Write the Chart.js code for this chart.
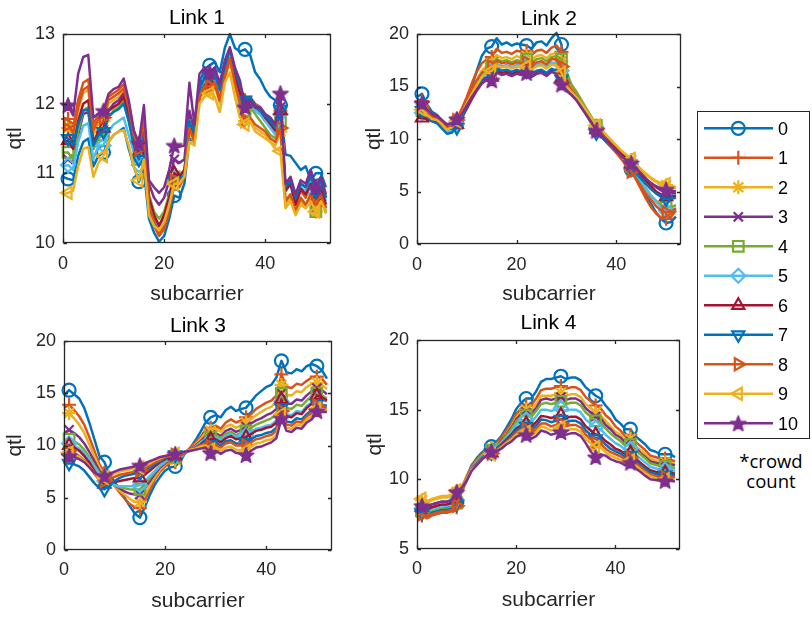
<!DOCTYPE html>
<html>
<head>
<meta charset="utf-8">
<script src="https://cdn.jsdelivr.net/npm/chart.js@4/dist/chart.umd.min.js"></script>
<style>
  html, body { margin: 0; padding: 0; background: #fff; }
  body { width: 812px; height: 617px; position: relative; overflow: hidden;
         font-family: "Liberation Sans", Arial, Helvetica, sans-serif; }
  canvas { position: absolute; }
  #legendBox { position: absolute; left: 697px; top: 111px; width: 113px; height: 328px;
               border: 1.3px solid #262626; box-sizing: border-box; }
  .lg { position: absolute; left: 778px; height: 22px; line-height: 22px; font-size: 18px; color: #000; }
  .note { position: absolute; left: 721px; width: 100px; text-align: center; font-family: "Open Sans", sans-serif;
          font-size: 18.5px; line-height: 20px; color: #000; }
</style>
</head>
<body>
<canvas id="link1" width="340" height="310" style="left:0;top:0"></canvas>
<canvas id="link2" width="340" height="310" style="left:350px;top:0"></canvas>
<canvas id="link3" width="340" height="317" style="left:0;top:300px"></canvas>
<canvas id="link4" width="340" height="317" style="left:350px;top:300px"></canvas>
<div id="legendBox"></div>
<canvas id="legendMarks" width="113" height="328" style="left:697px;top:111px"></canvas>
<div id="legendLabels"></div>
<div class="note" style="top:451px">*crowd</div>
<div class="note" style="top:471px">count</div>

<script>
// Subcarrier index (x axis) and crowd counts (one series per count)
const SUBCARRIERS = [0,1,2,3,4,5,6,7,8,9,10,11,12,13,14,15,16,17,18,19,20,21,22,23,24,25,26,
  27,28,29,30,31,32,33,34,35,36,37,38,39,40,41,42,43,44,45,46,47,48,49,50,51,52];
const CROWD_COUNTS = ['0','1','2','3','4','5','6','7','8','9','10'];
const MARKER_SUBCARRIERS = [1, 8, 15, 22, 29, 36, 43, 50];

const X_TICKS = [0, 20, 40];
const LINK1_Y_TICKS = [10, 11, 12, 13];
const LINK2_Y_TICKS = [0, 5, 10, 15, 20];
const LINK3_Y_TICKS = [0, 5, 10, 15, 20];
const LINK4_Y_TICKS = [5, 10, 15, 20];

// ---- Link 1: qtl per subcarrier, one array per crowd count ----
const link1_c0 = [10.95,10.92,10.90,11.25,11.45,11.50,11.10,11.25,11.30,11.45, 11.55,11.60,11.65,11.35,11.10,10.88,11.05,10.35,10.15,10.02, 10.10,10.35,10.68,10.65,10.85,11.50,11.45,12.30,12.50,12.55, 12.60,12.45,12.80,13.00,12.80,12.75,12.78,12.70,12.45,12.35, 12.20,12.10,12.05,11.98,11.27,11.25,11.15,11.05,11.10,10.90, 11.00,11.00,10.80];
const link1_c1 = [11.80,11.78,11.65,12.05,12.30,12.35,11.70,11.85,11.85,12.10, 12.15,12.20,12.28,12.00,11.60,11.40,11.80,10.50,10.25,10.10, 10.20,10.45,10.85,10.80,10.95,11.70,11.50,12.20,12.35,12.35, 12.40,12.15,12.50,12.75,12.45,12.25,12.05,12.10,12.00,11.95, 11.85,11.75,11.65,11.90,10.75,10.85,10.55,10.75,10.65,10.85, 10.60,10.80,10.50];
const link1_c2 = [11.65,11.65,11.52,11.90,12.15,12.20,11.55,11.72,11.75,12.00, 12.05,12.10,12.18,11.90,11.50,11.32,11.72,10.60,10.35,10.20, 10.32,10.58,10.92,10.88,10.98,11.60,11.42,12.05,12.20,12.20, 12.25,12.00,12.35,12.60,12.25,11.95,11.75,11.78,11.65,11.60, 11.55,11.45,11.40,11.60,10.55,10.65,10.42,10.60,10.52,10.65, 10.45,10.62,10.42];
const link1_c3 = [11.25,11.20,11.15,11.55,11.85,11.88,11.35,11.55,11.60,11.90, 12.00,12.05,12.15,11.85,11.45,11.25,11.65,10.85,10.65,10.55, 10.65,10.90,11.20,11.15,11.20,11.90,11.60,12.25,12.40,12.40, 12.45,12.20,12.55,12.75,12.45,12.25,12.00,12.05,11.90,11.85, 11.75,11.70,11.60,11.95,10.80,10.90,10.65,10.85,10.80,11.00, 10.75,10.90,10.65];
const link1_c4 = [11.30,11.30,11.20,11.60,11.90,11.95,11.35,11.50,11.55,11.80, 11.90,11.95,12.05,11.75,11.40,11.20,11.55,10.70,10.45,10.35, 10.45,10.70,10.95,10.92,11.00,11.75,11.55,12.15,12.30,12.30, 12.35,12.10,12.45,12.70,12.40,12.15,11.90,11.95,11.85,11.75, 11.65,11.55,11.50,11.75,10.60,10.70,10.45,10.65,10.55,10.70, 10.45,10.65,10.45];
const link1_c5 = [11.10,11.12,11.05,11.45,11.68,11.72,11.20,11.40,11.40,11.60, 11.70,11.75,11.80,11.55,11.30,11.12,11.45,10.50,10.30,10.22, 10.35,10.60,10.95,10.92,11.00,11.70,11.55,12.20,12.35,12.35, 12.40,12.15,12.50,12.70,12.45,12.20,12.00,12.02,11.90,11.85, 11.75,11.65,11.55,11.85,10.75,10.85,10.60,10.80,10.75,10.90, 10.70,10.85,10.60];
const link1_c6 = [11.45,11.47,11.35,11.75,12.00,12.05,11.45,11.60,11.65,11.90, 11.95,12.00,12.10,11.85,11.45,11.30,11.65,10.65,10.40,10.25, 10.40,10.65,11.00,10.95,11.05,11.70,11.50,12.10,12.25,12.28, 12.30,12.05,12.40,12.65,12.38,12.15,12.00,12.05,11.95,11.90, 11.80,11.72,11.62,11.90,10.75,10.85,10.55,10.78,10.70,10.85, 10.62,10.80,10.55];
const link1_c7 = [11.52,11.50,11.40,11.70,11.90,11.92,11.40,11.55,11.60,11.82, 11.88,11.92,12.00,11.75,11.40,11.20,11.55,10.55,10.30,10.15, 10.28,10.55,10.90,10.88,10.98,11.75,11.55,12.20,12.38,12.40, 12.42,12.20,12.52,12.78,12.50,12.25,12.05,12.08,11.98,11.90, 11.82,11.75,11.65,11.92,10.80,10.90,10.65,10.85,10.80,10.95, 10.75,10.90,10.65];
const link1_c8 = [11.70,11.70,11.58,11.95,12.20,12.25,11.62,11.78,11.80,12.05, 12.10,12.15,12.22,11.95,11.55,11.35,11.75,10.55,10.30,10.12, 10.25,10.50,10.90,10.85,10.95,11.65,11.45,12.10,12.25,12.25, 12.30,12.05,12.40,12.65,12.30,12.00,11.75,11.80,11.70,11.65, 11.60,11.50,11.45,11.65,10.60,10.70,10.45,10.65,10.55,10.70, 10.55,10.70,10.45];
const link1_c9 = [10.70,10.72,10.75,11.10,11.35,11.38,10.95,11.15,11.25,11.45, 11.55,11.60,11.62,11.40,11.10,10.90,11.20,10.40,10.25,10.18, 10.30,10.55,10.85,10.85,10.95,11.45,11.40,12.00,12.10,12.15, 12.10,11.88,12.30,12.45,12.10,11.80,11.70,11.75,11.60,11.55, 11.50,11.45,11.35,11.32,10.50,10.60,10.40,10.55,10.50,10.60, 10.45,10.60,10.45];
const link1_c10 = [12.00,11.98,11.83,12.43,12.67,12.70,11.80,11.86,11.90,12.14, 12.21,12.24,12.36,12.05,11.62,11.43,11.98,10.90,10.80,10.72, 10.80,11.05,11.40,11.38,11.40,12.30,11.70,12.43,12.52,12.45, 12.52,12.29,12.62,12.81,12.52,12.33,11.95,12.05,11.95,11.95, 11.85,11.80,11.70,12.15,10.85,10.95,10.70,10.90,10.85,11.05, 10.80,10.95,10.70];

// ---- Link 2 ----
const link2_c0 = [14.0,14.3,13.3,12.6,12.3,11.8,11.2,11.0,11.5,12.6, 13.8,15.0,16.5,17.9,18.6,18.8,19.6,19.0,19.2,18.9, 19.1,19.0,18.9,18.6,19.2,19.3,18.9,19.6,20.1,19.0, 15.8,14.8,14.2,13.4,12.6,11.8,10.9,10.4,9.8,9.3, 8.8,8.2,7.7,7.1,6.3,5.5,4.6,3.8,3.0,2.4, 2.0,2.1,2.6];
const link2_c1 = [13.4,13.6,12.9,12.4,12.2,11.8,11.3,11.3,11.9,12.9, 14.0,15.3,16.4,17.2,17.6,17.8,18.6,18.2,18.3,18.1, 18.4,18.3,18.4,18.0,18.4,18.5,18.2,18.7,18.9,18.3, 16.0,15.0,14.3,13.5,12.7,11.9,11.1,10.6,10.0,9.4, 8.8,8.2,7.6,7.0,6.1,5.2,4.3,3.5,2.9,2.5, 2.4,2.6,3.2];
const link2_c2 = [12.8,12.9,12.4,12.0,11.9,11.5,11.0,11.1,11.7,12.5, 13.6,14.6,15.6,16.5,17.0,17.2,18.0,17.7,17.8,17.6, 17.9,17.7,17.9,17.5,17.9,18.0,17.7,18.1,18.2,17.4, 15.6,14.8,14.2,13.5,12.8,12.1,11.3,10.9,10.3,9.8, 9.3,8.8,8.4,8.0,7.5,7.0,6.6,6.2,5.9,5.7, 5.6,5.5,5.3];
const link2_c3 = [13.0,13.2,12.6,12.2,12.0,11.6,11.1,11.2,11.8,12.4, 13.3,14.3,15.1,15.9,16.3,16.6,17.1,16.9,17.0,16.8, 17.0,16.9,17.0,16.7,17.0,17.1,16.9,17.2,17.0,16.2, 15.0,14.5,14.0,13.3,12.5,11.8,11.0,10.6,10.1,9.6, 9.1,8.6,8.2,7.7,7.2,6.7,6.2,5.8,5.4,5.1, 5.0,4.9,4.8];
const link2_c4 = [12.6,12.7,12.2,11.8,11.6,11.2,10.6,10.8,11.5,12.3, 13.4,14.4,15.4,16.2,16.7,16.9,17.6,17.4,17.5,17.3, 17.5,17.4,17.6,17.2,17.6,17.7,17.4,17.8,17.9,17.6, 16.4,15.2,14.5,13.7,12.9,12.1,11.3,10.8,10.2,9.6, 9.0,8.4,7.9,7.4,6.7,6.0,5.3,4.6,4.1,3.7, 3.5,3.5,3.7];
const link2_c5 = [12.4,12.5,12.0,11.7,11.6,11.2,10.7,10.8,11.4,12.2, 13.2,14.2,15.0,15.8,16.2,16.5,17.1,16.9,17.0,16.8, 17.0,16.9,17.1,16.8,17.1,17.2,16.9,17.3,17.2,16.5, 15.2,14.6,14.0,13.3,12.6,11.9,11.1,10.6,10.0,9.4, 8.8,8.3,7.8,7.3,6.6,5.9,5.2,4.6,4.0,3.5, 3.2,3.2,3.4];
const link2_c6 = [12.0,12.0,11.9,11.7,11.6,11.4,11.0,11.0,11.4,12.0, 12.9,13.8,14.6,15.3,15.7,15.9,16.5,16.3,16.4,16.2, 16.4,16.3,16.5,16.1,16.4,16.5,16.2,16.6,16.5,15.8, 14.8,14.3,13.8,13.1,12.4,11.7,10.9,10.5,10.0,9.5, 9.0,8.5,8.1,7.6,7.1,6.5,6.0,5.5,5.0,4.7, 4.5,4.5,4.6];
const link2_c7 = [12.6,12.7,12.1,11.7,11.5,11.0,10.5,10.6,11.1,12.0, 13.1,14.1,14.9,15.6,15.9,16.1,16.8,16.5,16.6,16.4, 16.6,16.4,16.5,16.1,16.5,16.6,16.3,16.7,16.5,15.7, 14.6,14.2,13.7,13.0,12.3,11.5,10.6,10.2,9.7,9.2, 8.7,8.2,7.7,7.2,6.7,6.2,5.7,5.2,4.8,4.5, 4.3,4.3,4.4];
const link2_c8 = [12.9,13.0,12.5,12.1,11.9,11.5,11.0,11.2,11.8,12.6, 13.7,14.7,15.6,16.3,16.7,16.9,17.5,17.2,17.3,17.1, 17.3,17.2,17.3,16.9,17.3,17.4,17.1,17.6,17.6,16.9, 15.4,14.7,14.1,13.4,12.6,11.8,11.0,10.5,9.9,9.3, 8.7,8.1,7.5,6.9,6.2,5.5,4.8,4.2,3.6,3.2, 3.0,3.1,3.4];
const link2_c9 = [12.7,12.8,12.3,11.9,11.8,11.4,10.9,11.1,11.7,12.4, 13.4,14.3,15.1,15.9,16.3,16.5,17.0,16.8,16.9,16.7, 16.9,16.8,16.9,16.6,16.9,17.0,16.7,17.1,17.0,16.3, 15.0,14.5,14.0,13.4,12.7,12.0,11.3,10.9,10.4,9.9, 9.4,8.9,8.5,8.1,7.6,7.1,6.7,6.3,6.0,5.8, 5.7,5.6,5.4];
const link2_c10 = [13.3,13.4,12.8,12.4,12.2,11.8,11.4,11.5,11.9,12.4, 13.2,14.0,14.7,15.3,15.6,15.6,16.3,16.1,16.2,16.0, 16.2,16.1,16.3,15.9,16.2,16.3,16.0,16.4,16.2,15.2, 14.6,14.2,13.7,13.0,12.3,11.6,10.8,10.4,9.9,9.4, 8.9,8.4,8.0,7.7,7.2,6.7,6.2,5.8,5.5,5.3, 5.2,5.1,5.0];

// ---- Link 3 ----
const link3_c0 = [14.8,15.3,14.9,14.5,13.6,12.2,10.6,9.0,8.4,7.2, 6.5,5.8,5.0,4.2,3.5,3.1,4.1,5.3,6.3,7.0, 7.6,7.9,8.0,8.5,9.3,9.8,10.5,11.3,12.2,12.7, 12.9,12.7,13.4,13.7,13.3,13.5,13.6,14.2,14.8,15.2, 15.6,15.8,16.5,18.1,17.0,16.9,17.3,17.1,17.6,17.8, 17.6,17.2,16.4];
const link3_c1 = [13.6,13.9,13.4,12.8,12.0,10.8,9.5,8.2,7.4,6.7, 6.1,5.5,4.9,4.4,4.1,4.0,4.8,5.8,6.8,7.5, 8.0,8.3,8.4,8.8,9.3,9.8,10.3,10.8,11.5,11.7, 11.9,11.6,12.2,12.5,12.2,12.4,12.7,13.0,13.5,13.8, 14.1,14.3,14.8,16.8,15.6,15.5,15.9,15.8,16.2,16.5, 16.6,16.4,15.8];
const link3_c2 = [12.8,13.1,12.6,12.0,11.2,10.1,9.0,7.9,7.2,6.6, 6.1,5.7,5.3,4.9,4.6,4.6,5.3,6.2,7.0,7.7, 8.2,8.5,8.6,8.9,9.3,9.7,10.1,10.6,11.2,11.4, 11.6,11.3,11.8,12.0,11.7,11.9,12.2,12.5,12.9,13.2, 13.5,13.7,14.2,15.8,14.8,14.8,15.2,15.1,15.6,15.9, 16.0,15.8,15.4];
const link3_c3 = [11.2,11.5,11.2,10.8,10.2,9.4,8.5,7.6,7.0,6.6, 6.2,5.9,5.6,5.4,5.3,5.3,5.9,6.6,7.3,7.9, 8.3,8.6,8.8,9.0,9.3,9.7,10.0,10.4,10.9,11.0, 11.2,10.9,11.4,11.6,11.3,11.5,11.8,12.1,12.4,12.6, 12.9,13.1,13.5,15.0,14.0,14.0,14.4,14.3,14.8,15.2, 15.5,15.3,14.9];
const link3_c4 = [10.4,10.6,10.4,10.1,9.6,8.9,8.1,7.4,6.8,6.5, 6.2,6.0,5.9,5.8,5.8,5.8,6.3,6.9,7.5,8.0, 8.4,8.7,8.9,9.1,9.3,9.6,9.9,10.3,10.7,10.8, 11.0,10.7,11.1,11.3,11.0,11.2,11.4,11.7,12.0,12.2, 12.4,12.6,13.0,15.0,13.6,13.5,13.9,13.8,14.3,14.7, 15.0,14.8,14.5];
const link3_c5 = [10.0,10.2,10.0,9.7,9.3,8.7,8.0,7.2,6.6,6.4, 6.2,6.1,6.1,6.1,6.1,6.2,6.6,7.1,7.6,8.1, 8.5,8.8,9.0,9.2,9.4,9.6,9.9,10.3,10.6,10.5, 10.8,10.5,10.9,11.1,10.8,10.9,11.0,11.3,11.6,11.7, 11.9,12.0,12.4,14.2,13.0,12.9,13.3,13.2,13.8,14.1, 14.6,14.4,14.2];
const link3_c6 = [9.8,10.0,9.8,9.5,9.0,8.4,7.6,6.8,6.3,6.4, 6.5,6.6,6.7,6.8,6.9,6.9,7.2,7.6,8.0,8.4, 8.7,8.9,9.0,9.2,9.4,9.6,9.8,10.1,10.5,10.6, 10.6,10.3,10.7,10.9,10.6,10.7,10.8,11.1,11.4,11.5, 11.7,11.8,12.2,14.4,12.8,12.7,13.1,13.0,13.6,14.0, 14.8,14.6,14.3];
const link3_c7 = [8.2,8.3,8.2,8.0,7.6,7.0,6.4,5.9,5.8,6.2, 6.6,6.9,7.1,7.2,7.3,7.4,7.6,7.9,8.2,8.5, 8.8,9.0,9.1,9.2,9.4,9.5,9.7,10.0,10.3,10.1, 10.3,10.0,10.4,10.5,10.2,10.2,10.3,10.6,10.9,11.0, 11.2,11.3,11.7,13.6,12.3,12.2,12.6,12.5,13.0,13.4, 14.0,13.9,13.8];
const link3_c8 = [9.3,9.5,9.3,9.0,8.6,8.0,7.3,6.7,6.6,6.8, 7.0,7.2,7.3,7.4,7.5,7.6,7.8,8.1,8.4,8.6, 8.9,9.0,9.1,9.2,9.4,9.6,9.8,10.0,10.2,9.9, 10.1,9.8,10.2,10.3,10.0,10.0,10.0,10.3,10.6,10.7, 10.9,11.0,11.4,13.3,12.0,11.9,12.3,12.2,12.8,13.1, 13.8,13.7,13.6];
const link3_c9 = [9.1,9.3,9.1,8.9,8.5,8.0,7.4,6.9,6.9,7.1, 7.3,7.5,7.6,7.7,7.8,7.9,8.1,8.3,8.6,8.8, 9.0,9.1,9.2,9.3,9.4,9.6,9.7,9.9,10.0,9.6, 9.8,9.5,9.8,9.9,9.6,9.5,9.5,9.9,10.2,10.3, 10.5,10.6,11.0,13.0,11.7,11.6,12.0,11.9,12.5,12.8, 13.5,13.4,13.4];
const link3_c10 = [8.8,9.0,8.9,8.7,8.4,7.9,7.4,7.1,7.1,7.3, 7.5,7.7,7.8,7.9,8.0,8.1,8.3,8.5,8.7,8.9, 9.0,9.1,9.2,9.3,9.4,9.5,9.6,9.7,9.8,9.3, 9.5,9.2,9.5,9.6,9.3,9.2,9.1,9.5,9.8,9.9, 10.1,10.3,10.7,12.6,11.4,11.3,11.7,11.6,12.2,12.5, 13.3,13.2,13.2];

// ---- Link 4 ----
const link4_c0 = [7.8,7.8,7.7,7.9,8.0,8.1,8.0,8.1,8.4,9.3, 10.2,11.0,11.5,11.9,12.2,12.35,12.7,13.1,13.7,14.3, 15.05,15.5,15.8,15.8,16.3,17.0,17.2,17.2,17.3,17.4, 17.2,17.3,17.3,17.1,16.6,16.3,16.0,15.8,15.3,14.9, 14.3,14.0,13.6,13.6,13.1,12.8,12.5,12.1,12.0,11.8, 11.8,11.8,11.6];
const link4_c1 = [7.4,7.4,7.2,7.4,7.5,7.6,7.6,7.7,8.0,9.3, 10.1,11.0,11.4,11.8,12.1,12.2,12.6,13.0,13.5,14.0, 14.7,15.1,15.3,15.3,15.8,16.4,16.5,16.5,16.6,16.7, 16.5,16.6,16.6,16.4,15.9,15.6,15.3,15.1,14.6,14.3, 13.8,13.5,13.1,13.2,12.7,12.4,12.1,11.7,11.6,11.5, 11.5,11.4,11.3];
const link4_c2 = [8.5,8.5,8.3,8.5,8.6,8.7,8.7,8.8,9.1,9.5, 10.2,10.9,11.3,11.7,12.0,12.2,12.5,12.8,13.3,13.8, 14.45,14.8,15.0,14.9,15.4,16.0,16.0,16.0,16.1,16.2, 16.0,16.1,16.1,15.9,15.4,15.1,14.8,14.6,14.2,13.8, 13.4,13.2,12.8,12.9,12.4,12.1,11.8,11.5,11.35,11.2, 11.2,11.2,11.1];
const link4_c3 = [8.2,8.2,8.0,8.2,8.3,8.4,8.4,8.5,8.8,9.3, 10.1,10.9,11.3,11.7,12.0,12.1,12.4,12.8,13.2,13.7, 14.3,14.7,14.8,14.7,15.1,15.7,15.8,15.7,15.8,15.9, 15.7,15.8,15.8,15.6,15.1,14.8,14.5,14.4,13.9,13.6, 13.2,13.0,12.6,12.7,12.3,11.9,11.6,11.3,11.2,11.1, 11.1,11.1,11.0];
const link4_c4 = [7.7,7.7,7.5,7.7,7.8,7.9,7.9,8.0,8.3,9.1, 10.0,10.85,11.3,11.7,12.0,12.1,12.4,12.7,13.15,13.6, 14.15,14.5,14.6,14.45,14.9,15.4,15.5,15.4,15.5,15.6, 15.4,15.5,15.5,15.3,14.8,14.5,14.2,14.1,13.65,13.3, 13.0,12.75,12.4,12.5,12.1,11.8,11.5,11.15,11.05,10.95, 10.95,10.9,10.8];
const link4_c5 = [7.9,7.9,7.7,7.9,8.0,8.1,8.1,8.2,8.5,9.2, 10.0,10.8,11.2,11.6,11.9,12.0,12.3,12.6,13.0,13.4, 13.9,14.2,14.3,14.1,14.5,15.0,15.0,14.9,15.0,15.1, 14.9,15.0,15.0,14.8,14.3,14.0,13.7,13.6,13.2,12.9, 12.6,12.4,12.1,12.2,11.8,11.5,11.2,10.9,10.8,10.7, 10.7,10.7,10.6];
const link4_c6 = [8.0,8.0,7.8,8.0,8.1,8.2,8.2,8.3,8.6,9.2, 10.0,10.75,11.1,11.5,11.8,11.9,12.2,12.5,12.85,13.2, 13.65,13.9,14.0,13.75,14.1,14.55,14.5,14.4,14.5,14.6, 14.4,14.5,14.5,14.3,13.8,13.5,13.2,13.1,12.75,12.5, 12.2,12.05,11.8,11.9,11.5,11.2,10.9,10.65,10.55,10.45, 10.45,10.5,10.4];
const link4_c7 = [7.6,7.6,7.4,7.6,7.7,7.8,7.8,7.9,8.2,9.15, 9.9,10.7,11.1,11.5,11.8,11.9,12.15,12.4,12.75,13.1, 13.5,13.75,13.8,13.5,13.85,14.3,14.25,14.1,14.2,14.3, 14.1,14.2,14.2,14.0,13.5,13.2,12.9,12.85,12.5,12.2, 12.0,11.85,11.6,11.7,11.35,11.05,10.75,10.5,10.4,10.3, 10.3,10.35,10.25];
const link4_c8 = [7.5,7.5,7.3,7.5,7.6,7.7,7.7,7.8,8.1,9.15, 9.9,10.7,11.05,11.45,11.75,11.85,12.1,12.35,12.65,12.95, 13.35,13.55,13.6,13.3,13.6,14.0,14.0,13.8,13.9,14.0, 13.8,13.9,13.9,13.7,13.2,12.9,12.6,12.55,12.2,11.95, 11.8,11.65,11.4,11.55,11.15,10.9,10.6,10.3,10.25,10.15, 10.15,10.2,10.1];
const link4_c9 = [8.6,8.6,8.4,8.6,8.7,8.8,8.8,8.9,9.2,9.4, 10.0,10.7,11.0,11.4,11.7,11.8,12.05,12.3,12.6,12.85, 13.2,13.4,13.4,13.1,13.4,13.8,13.7,13.5,13.6,13.7, 13.5,13.6,13.6,13.4,12.9,12.6,12.3,12.3,11.95,11.7, 11.55,11.4,11.2,11.35,11.0,10.7,10.45,10.2,10.1,10.0, 10.0,10.05,10.0];
const link4_c10 = [8.2,8.1,8.0,8.2,8.3,8.4,8.4,8.5,9.1,9.4, 9.9,10.6,11.0,11.4,11.7,12.0,12.0,12.2,12.5,12.7, 13.05,13.2,13.2,12.9,13.1,13.5,13.4,13.2,13.3,13.4, 13.2,13.3,13.3,13.1,12.6,12.0,11.6,11.8,11.7,11.45, 11.3,11.2,11.0,11.2,10.8,10.55,10.25,10.0,9.95,9.9, 9.9,9.9,9.85];

const LINK1 = [link1_c0, link1_c1, link1_c2, link1_c3, link1_c4, link1_c5, link1_c6, link1_c7, link1_c8, link1_c9, link1_c10];
const LINK2 = [link2_c0, link2_c1, link2_c2, link2_c3, link2_c4, link2_c5, link2_c6, link2_c7, link2_c8, link2_c9, link2_c10];
const LINK3 = [link3_c0, link3_c1, link3_c2, link3_c3, link3_c4, link3_c5, link3_c6, link3_c7, link3_c8, link3_c9, link3_c10];
const LINK4 = [link4_c0, link4_c1, link4_c2, link4_c3, link4_c4, link4_c5, link4_c6, link4_c7, link4_c8, link4_c9, link4_c10];

// ---- styling ----
const FONT = '"Liberation Sans", Arial, Helvetica, sans-serif';
const AXIS_COLOR = '#262626';
const COLORS = ['#0072BD','#D95319','#EDB120','#7E2F8E','#77AC30','#4DBEEE','#A2142F','#0072BD','#D95319','#EDB120','#7E2F8E'];

function pentagram(color, r) {
  const s = Math.ceil(2 * r + 4);
  const c = document.createElement('canvas');
  c.width = s; c.height = s;
  const g = c.getContext('2d');
  g.translate(s / 2, s / 2 + 0.8);
  g.beginPath();
  for (let k = 0; k < 10; k++) {
    const rad = k % 2 ? r * 0.42 : r;
    const a = -Math.PI / 2 + k * Math.PI / 5;
    g.lineTo(rad * Math.cos(a), rad * Math.sin(a));
  }
  g.closePath();
  g.fillStyle = color; g.strokeStyle = color; g.lineWidth = 1.6; g.lineJoin = 'round';
  g.fill(); g.stroke();
  return c;
}
const STAR_IMG = pentagram(COLORS[10], 8);
const POINT_STYLES = ['circle','cross','star','crossRot','rect','rectRot','triangle','triangle','triangle','triangle', STAR_IMG];
const POINT_ROT = [0,0,0,0,0,0,0,180,90,270,0];
const POINT_R = [6.5,7,7,6.5,7.5,7,7,7,7,7,8];

Chart.defaults.font.family = FONT;
Chart.defaults.color = AXIS_COLOR;

// box frame with inward tick marks on all four sides
const framePlugin = {
  id: 'frame',
  afterDatasetsDraw(chart) {
    const {ctx, chartArea: a, scales: {x, y}} = chart;
    const L = Math.round(a.left) + 0.5, R = Math.round(a.right) - 0.5;
    const T = Math.round(a.top) + 0.5, B = Math.round(a.bottom) - 0.5;
    const tl = 3.5;
    ctx.save();
    ctx.strokeStyle = AXIS_COLOR;
    ctx.lineWidth = 1.3;
    ctx.strokeRect(L, T, R - L, B - T);
    ctx.beginPath();
    x.ticks.forEach(t => {
      const p = Math.round(x.getPixelForValue(t.value)) + 0.5;
      ctx.moveTo(p, B); ctx.lineTo(p, B - tl);
      ctx.moveTo(p, T); ctx.lineTo(p, T + tl);
    });
    y.ticks.forEach(t => {
      const p = Math.round(y.getPixelForValue(t.value)) + 0.5;
      ctx.moveTo(L, p); ctx.lineTo(L + tl, p);
      ctx.moveTo(R, p); ctx.lineTo(R - tl, p);
    });
    ctx.stroke();
    ctx.restore();
  }
};

function makeLinkChart(id, title, series, yMin, yMax, yTicks, g) {
  const datasets = series.map((vals, i) => ({
    label: CROWD_COUNTS[i],
    data: vals.map((v, j) => ({x: SUBCARRIERS[j], y: v})),
    borderColor: COLORS[i],
    borderWidth: 2.5,
    borderJoinStyle: 'round',
    tension: 0,
    pointStyle: POINT_STYLES[i],
    pointRotation: POINT_ROT[i],
    pointRadius: ctx => MARKER_SUBCARRIERS.includes(SUBCARRIERS[ctx.dataIndex]) ? POINT_R[i] : 0,
    pointBorderColor: COLORS[i],
    pointBackgroundColor: 'rgba(0,0,0,0)',
    pointBorderWidth: 2.2,
    order: 10 - i,
    clip: 4
  }));
  return new Chart(document.getElementById(id), {
    type: 'line',
    data: {datasets},
    options: {
      responsive: false,
      animation: false,
      events: [],
      layout: {padding: {left: 0, top: 0, bottom: 0, right: g.pr}},
      plugins: {
        legend: {display: false},
        tooltip: {enabled: false},
        title: {
          display: true, text: title, color: '#000', fullSize: false,
          font: {size: 21, weight: 'normal'},
          padding: {top: g.tt, bottom: g.tb}
        }
      },
      scales: {
        x: {
          type: 'linear', min: 0, max: 53,
          afterBuildTicks: s => { s.ticks = X_TICKS.map(v => ({value: v})); },
          afterFit: s => { s.height = g.xh; },
          grid: {display: false, drawTicks: false},
          border: {display: false},
          ticks: {padding: g.xp, color: AXIS_COLOR, font: {size: 18}, maxRotation: 0, autoSkip: false},
          title: {display: true, text: 'subcarrier', color: AXIS_COLOR, font: {size: 21}, padding: {top: 0, bottom: g.xtp}}
        },
        y: {
          type: 'linear', min: yMin, max: yMax,
          afterBuildTicks: s => { s.ticks = yTicks.map(v => ({value: v})); },
          afterFit: s => { s.width = g.yw; },
          grid: {display: false, drawTicks: false},
          border: {display: false},
          ticks: {padding: 8, color: AXIS_COLOR, font: {size: 18}, autoSkip: false},
          title: {display: true, text: 'qtl', color: AXIS_COLOR, font: {size: 21}, padding: {top: g.ytp, bottom: 0}}
        }
      }
    },
    plugins: [framePlugin]
  });
}

makeLinkChart('link1', 'Link 1', LINK1, 10, 13, LINK1_Y_TICKS, {yw: 63, xh: 67, pr: 9, tt: 5.5, tb: 3.3, xp: 10, xtp: 3.4, ytp: 2.9});
makeLinkChart('link2', 'Link 2', LINK2, 0, 20, LINK2_Y_TICKS, {yw: 67, xh: 66, pr: 9, tt: 6.4, tb: 2.4, xp: 10, xtp: 3.4, ytp: 11.4});
makeLinkChart('link3', 'Link 3', LINK3, 0, 20, LINK3_Y_TICKS, {yw: 64, xh: 67, pr: 8, tt: 13.4, tb: 2.4, xp: 9, xtp: 3.4, ytp: 2.9});
makeLinkChart('link4', 'Link 4', LINK4, 5, 20, LINK4_Y_TICKS, {yw: 67, xh: 68, pr: 10, tt: 10.9, tb: 3.9, xp: 9, xtp: 4.4, ytp: 12.4});

// ---- legend: line + marker sample, then the crowd count ----
(function drawLegend() {
  const lc = document.getElementById('legendMarks').getContext('2d');
  const drawPoint = Chart.helpers && Chart.helpers.drawPoint;
  const labels = document.getElementById('legendLabels');
  CROWD_COUNTS.forEach((name, i) => {
    const cy = 17.3 + i * 29.5;
    lc.strokeStyle = COLORS[i];
    lc.lineWidth = 2.5;
    lc.beginPath(); lc.moveTo(7, cy); lc.lineTo(76, cy); lc.stroke();
    lc.fillStyle = 'rgba(0,0,0,0)';
    lc.lineWidth = 2.2;
    if (drawPoint) {
      drawPoint(lc, {pointStyle: POINT_STYLES[i], rotation: POINT_ROT[i], radius: POINT_R[i], borderWidth: 2.2}, 41.3, cy);
    }
    const span = document.createElement('div');
    span.className = 'lg';
    span.style.top = (111 + cy - 10.8) + 'px';
    span.textContent = name;
    labels.appendChild(span);
  });
})();
</script>
</body>
</html>
